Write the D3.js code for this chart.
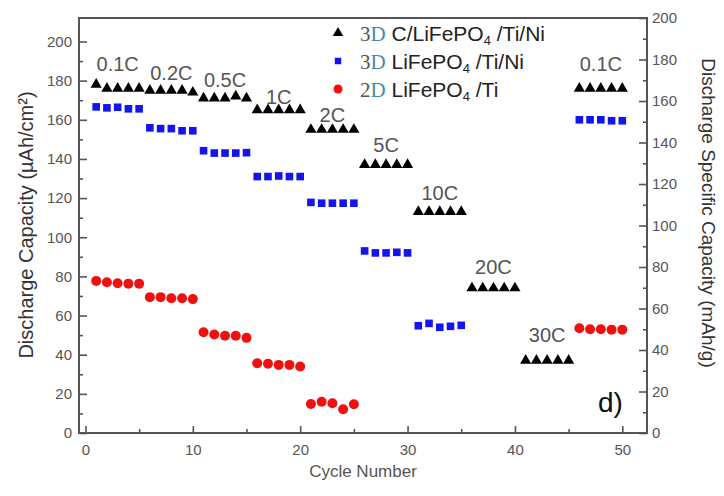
<!DOCTYPE html>
<html><head><meta charset="utf-8">
<script src="https://cdn.jsdelivr.net/npm/d3@7"></script>
<style>body{margin:0;background:#fff}svg{display:block}</style>
</head><body><svg id="c" width="724" height="496"></svg>
<script>
// ---------- data ----------
const cycles = [1,2,3,4,5,6,7,8,9,10,11,12,13,14,15,16,17,18,19,20,21,22,23,24,25,
                26,27,28,29,30,31,32,33,34,35,36,37,38,39,40,41,42,43,44,45,46,47,48,49,50];
// 3D C/LiFePO4/Ti/Ni (black triangles)
const cLfpTiNi = [178,176,176,176,176, 175,175,175,175,174, 171,171,171,172,171,
                  165,165,165,165,165, 155,155,155,155,155, 137,137,137,137,137,
                  113,113,113,113,113, 74,74,74,74,74, 37,37,37,37,37, 176,176,176,176,176];
// 3D LiFePO4/Ti/Ni (blue squares)
const lfpTiNi = [166.6,166.1,166.4,165.6,165.6, 155.9,155.5,155.5,154.4,154.4,
                 144.2,143,143,143,143.2, 131,131,131.3,131,131, 117.8,117.4,117.4,117.4,117.4,
                 93,92,92,92.3,92, 54.8,56,54,54.5,55, null,null,null,null,null,
                 null,null,null,null,null, 160,160,160,159.5,159.5];
// 2D LiFePO4/Ti (red circles)
const lfpTi = [77.7,77,76.5,76.3,76.3, 69.4,69.4,68.8,68.8,68.4, 51.5,50.3,49.7,49.7,48.6,
               35.6,35.4,34.8,34.8,34, 14.8,16,15.2,12.1,14.7, null,null,null,null,null,
               null,null,null,null,null, null,null,null,null,null, null,null,null,null,null,
               53.5,53,53,52.8,52.8];
const rateLabels = ["0.1C","0.2C","0.5C","1C","2C","5C","10C","20C","30C","0.1C"];
const rateLabelCycle = [3,8,13,18,23,28,33,38,43,48];
const rateLabelLevel = [188.7,184,180.5,171.8,162.6,147.3,122.8,84.9,50.1,188.7];
const leftTicks = [0,20,40,60,80,100,120,140,160,180,200];
const leftMinor = [10,30,50,70,90,110,130,150,170,190];
const rightTicks = [0,20,40,60,80,100,120,140,160,180,200];
const rightMinor = [10,30,50,70,90,110,130,150,170,190];
const xTicks = [0,10,20,30,40,50];
const xMinor = [5,15,25,35,45];

// ---------- layout ----------
const svg = d3.select("#c");
const L = 79, R = 647, T = 18, B = 433;
const x = d3.scaleLinear([-0.6, 52.3], [L, R]);
const yL = d3.scaleLinear([0, 212], [B, T]);
const yR = d3.scaleLinear([0, 200], [B, T]);
const axisCol = "#555";
const tickFont = "15px 'Liberation Sans', Arial, sans-serif";

function styleAxis(g){
  g.select(".domain").remove();
  g.selectAll(".tick line").attr("stroke", axisCol).attr("stroke-width", 1.6);
  g.selectAll(".tick text").attr("fill", "#555").style("font", tickFont);
}
// bottom
svg.append("g").attr("transform",`translate(0,${B})`)
  .call(d3.axisBottom(x).tickValues(xTicks).tickSizeInner(-7).tickSizeOuter(0).tickPadding(11))
  .call(styleAxis);
svg.append("g").attr("transform",`translate(0,${B})`)
  .call(d3.axisBottom(x).tickValues(xMinor).tickSizeInner(-4).tickSizeOuter(0).tickFormat(""))
  .call(styleAxis);
// left
svg.append("g").attr("transform",`translate(${L},0)`)
  .call(d3.axisLeft(yL).tickValues(leftTicks).tickSizeInner(-8).tickSizeOuter(0).tickPadding(7))
  .call(styleAxis);
svg.append("g").attr("transform",`translate(${L},0)`)
  .call(d3.axisLeft(yL).tickValues(leftMinor).tickSizeInner(-4).tickSizeOuter(0).tickFormat(""))
  .call(styleAxis);
// right
svg.append("g").attr("transform",`translate(${R},0)`)
  .call(d3.axisRight(yR).tickValues(rightTicks).tickSizeInner(-8).tickSizeOuter(0).tickPadding(5))
  .call(styleAxis);
svg.append("g").attr("transform",`translate(${R},0)`)
  .call(d3.axisRight(yR).tickValues(rightMinor).tickSizeInner(-4).tickSizeOuter(0).tickFormat(""))
  .call(styleAxis);
// frame
svg.append("rect").attr("x",L).attr("y",T).attr("width",R-L).attr("height",B-T)
  .attr("fill","none").attr("stroke",axisCol).attr("stroke-width",2);

// axis titles
svg.append("text").attr("transform",`translate(26,225) rotate(-90)`)
  .attr("text-anchor","middle").attr("dominant-baseline","central")
  .attr("fill","#333").style("font","20px 'Liberation Sans', Arial, sans-serif")
  .text("Discharge Capacity (µAh/cm²)");
svg.append("text").attr("transform",`translate(708,213) rotate(90)`)
  .attr("text-anchor","middle").attr("dominant-baseline","central")
  .attr("fill","#333").style("font","19px 'Liberation Sans', Arial, sans-serif")
  .text("Discharge Specific Capacity (mAh/g)");
svg.append("text").attr("x",(L+R)/2).attr("y",477).attr("text-anchor","middle")
  .attr("fill","#555").style("font","17px 'Liberation Sans', Arial, sans-serif")
  .text("Cycle Number");

// ---------- marks ----------
const tri = d3.symbol(d3.symbolTriangle, 54);
const sq = d3.symbol(d3.symbolSquare, 58);
const rows = cycles.map((c,i)=>({c, a:cLfpTiNi[i], b:lfpTiNi[i], r:lfpTi[i]}));
svg.append("g").selectAll("path").data(rows.filter(d=>d.a!=null)).join("path")
  .attr("d", tri).attr("fill","#000")
  .attr("transform", d=>`translate(${x(d.c)},${yL(d.a)})`);
svg.append("g").selectAll("path").data(rows.filter(d=>d.b!=null)).join("path")
  .attr("d", sq).attr("fill","#1414f0")
  .attr("transform", d=>`translate(${x(d.c)},${yL(d.b)})`);
svg.append("g").selectAll("circle").data(rows.filter(d=>d.r!=null)).join("circle")
  .attr("cx", d=>x(d.c)).attr("cy", d=>yL(d.r)).attr("r",5).attr("fill","#f01010");

// rate labels
svg.append("g").selectAll("text").data(rateLabels).join("text")
  .attr("x",(d,i)=>x(rateLabelCycle[i])).attr("y",(d,i)=>yL(rateLabelLevel[i]))
  .attr("text-anchor","middle").attr("dominant-baseline","central")
  .attr("fill","#555").style("font","20px 'Liberation Sans', Arial, sans-serif")
  .text(d=>d);

// panel letter
svg.append("text").attr("x",598).attr("y",412).attr("fill","#111")
  .style("font","28px 'Liberation Sans', Arial, sans-serif").text("d)");

// ---------- legend ----------
const legend = [
  {sym:"tri", pre:"3D ", a:"C/LiFePO", b:" /Ti/Ni"},
  {sym:"sq",  pre:"3D ", a:"LiFePO",   b:" /Ti/Ni"},
  {sym:"dot", pre:"2D ", a:"LiFePO",   b:" /Ti"}
];
const lg = svg.append("g");
legend.forEach((d,i)=>{
  const yb = 41 + i*28;
  const my = yb - 8;
  if(d.sym==="tri") lg.append("path").attr("d",d3.symbol(d3.symbolTriangle,48)).attr("fill","#000").attr("transform",`translate(338,${my})`);
  if(d.sym==="sq") lg.append("path").attr("d",d3.symbol(d3.symbolSquare,42)).attr("fill","#1414f0").attr("transform",`translate(338,${my})`);
  if(d.sym==="dot") lg.append("circle").attr("cx",338).attr("cy",my).attr("r",4.5).attr("fill","#f01010");
  const t = lg.append("text").attr("x",360).attr("y",yb).attr("fill","#222")
    .style("font","21px 'Liberation Sans', Arial, sans-serif");
  t.append("tspan").style("font-family","'Liberation Serif', 'Times New Roman', serif").attr("fill","#555").text(d.pre[0]);
  t.append("tspan").style("font-family","'Liberation Serif', 'Times New Roman', serif").attr("fill","#4a8aa6").text(d.pre[1]);
  t.append("tspan").text(" " + d.a);
  t.append("tspan").attr("dy",4).style("font-size","13px").text("4");
  t.append("tspan").attr("dy",-4).text(d.b);
});
</script></body></html>
